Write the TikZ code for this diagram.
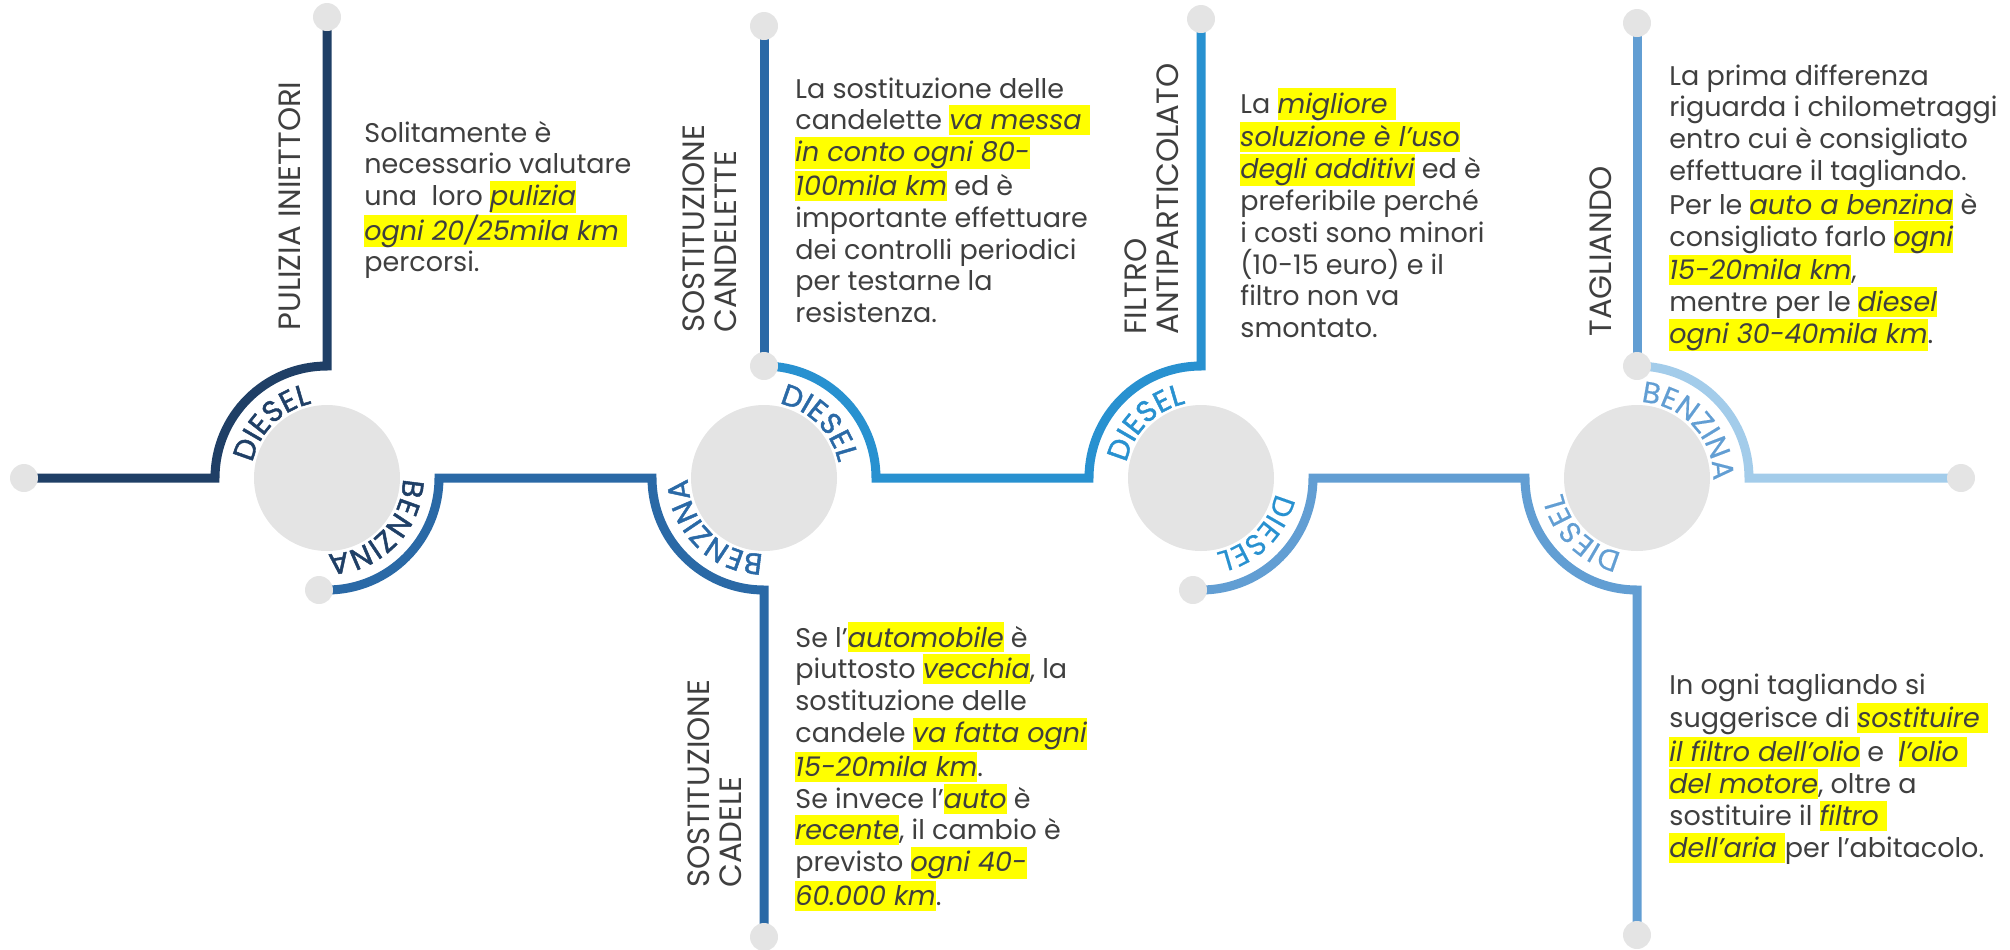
\documentclass[tikz,border=0pt]{standalone}
\usepackage{fontspec}
\setmainfont{Poppins}
\newfontfamily\arcfont{Poppins}[LetterSpace=4,FakeBold=1.6]
\newfontfamily\arcfontlight{Poppins}[LetterSpace=4,FakeBold=0.4]
\usetikzlibrary{calc,decorations.text}
\definecolor{navy}{HTML}{1F3F66}
\definecolor{blueA}{HTML}{2A69A6}
\definecolor{blueB}{HTML}{2891D0}
\definecolor{blueC}{HTML}{629ED3}
\definecolor{blueD}{HTML}{A3CCEA}
\definecolor{hubgray}{HTML}{E4E4E4}
\definecolor{txtgray}{HTML}{3F3F3F}
\definecolor{hlyellow}{HTML}{FFFF00}
\newcommand{\hlstrut}{\rule[-2.7pt]{0pt}{15pt}}
\newcommand{\hlbox}[1]{{\setlength{\fboxsep}{0pt}\colorbox{hlyellow}{\hlstrut\itshape #1}}}
\newcommand{\arclbl}{\arcfont\fontsize{14.8pt}{14.8pt}\selectfont}
\newcommand{\arclbllight}{\arcfontlight\fontsize{14.8pt}{14.8pt}\selectfont}

\begin{document}
\begin{tikzpicture}[x=0.5pt,y=0.5pt,
		seg/.style={line width=4.5pt},
		knob/.style={fill=hubgray},
		para/.style={anchor=north west,inner sep=0pt,align=left,text=txtgray,font=\fontsize{13.5pt}{15.9pt}\selectfont},
		ttl/.style={rotate=90,anchor=south west,inner sep=0pt,align=left,text=txtgray,font=\fontsize{15.4pt}{15.8pt}\selectfont}]
		\useasboundingbox (0,0) rectangle (2010,-949);
		
		\coordinate (h1) at (327,-478);
		\coordinate (h2) at (764,-478);
		\coordinate (h3) at (1201,-478);
		\coordinate (h4) at (1637,-478);
		\coordinate (dl) at (24,-478);
		\coordinate (d1t) at (327,-17);
		\coordinate (d1b) at (319,-590);
		\coordinate (d2t) at (764,-26);
		\coordinate (d2m) at (764,-366);
		\coordinate (d2b) at (764,-937);
		\coordinate (d3t) at (1201,-19);
		\coordinate (d3b) at (1193,-590);
		\coordinate (d4t) at (1637,-23);
		\coordinate (d4m) at (1637,-366);
		\coordinate (d4b) at (1637,-935);
		\coordinate (dr) at (1961,-478);
		
		\draw[seg,navy] (dl) -- ($(h1)+(-112,0)$) arc[start angle=180,end angle=90,radius=112] -- (d1t);
		\draw[seg,blueA] ($(h1)+(0,-112)$) arc[start angle=-90,end angle=0,radius=112] -- ($(h2)+(-112,0)$) arc[start angle=180,end angle=270,radius=112] -- (d2b);
		\draw[seg,blueA] (d2m) -- (d2t);
		\draw[seg,blueB] (d2m) arc[start angle=90,end angle=0,radius=112] -- ($(h3)+(-112,0)$) arc[start angle=180,end angle=90,radius=112] -- (d3t);
		\draw[seg,blueC] ($(h3)+(0,-112)$) arc[start angle=-90,end angle=0,radius=112] -- ($(h4)+(-112,0)$) arc[start angle=180,end angle=270,radius=112] -- (d4b);
		\draw[seg,blueC] (d4m) -- (d4t);
		\draw[seg,blueD] (d4m) arc[start angle=90,end angle=0,radius=112] -- (dr);
		
		\fill[knob] (h1) circle[radius=73];
		\fill[knob] (h2) circle[radius=73];
		\fill[knob] (h3) circle[radius=73];
		\fill[knob] (h4) circle[radius=73];
		\foreach \d in {dl,d1t,d1b,d2t,d2m,d2b,d3t,d3b,d4t,d4m,d4b,dr}
			\fill[knob] (\d) circle[radius=14];
		
		\path[decorate,decoration={text along path,text align=center,text={|\arclbl\color{navy}|DIESEL}}] ($(h1)+(180:76)$) arc[start angle=180,end angle=90,radius=76];
		\path[decorate,decoration={text along path,text align=center,text={|\arclbl\color{navy}|BENZINA}}] ($(h1)+(0:76)$) arc[start angle=0,end angle=-90,radius=76];
		\path[decorate,decoration={text along path,text align=center,text={|\arclbl\color{blueA}|DIESEL}}] ($(h2)+(90:76)$) arc[start angle=90,end angle=0,radius=76];
		\path[decorate,decoration={text along path,text align=center,text={|\arclbl\color{blueA}|BENZINA}}] ($(h2)+(270:76)$) arc[start angle=270,end angle=180,radius=76];
		\path[decorate,decoration={text along path,text align=center,text={|\arclbl\color{blueB}|DIESEL}}] ($(h3)+(180:76)$) arc[start angle=180,end angle=90,radius=76];
		\path[decorate,decoration={text along path,text align=center,text={|\arclbllight\color{blueB}|DIESEL}}] ($(h3)+(0:76)$) arc[start angle=0,end angle=-90,radius=76];
		\path[decorate,decoration={text along path,text align=center,text={|\arclbllight\color{blueC}|DIESEL}}] ($(h4)+(270:76)$) arc[start angle=270,end angle=180,radius=76];
		\path[decorate,decoration={text along path,text align=center,text={|\arclbllight\color{blueC}|BENZINA}}] ($(h4)+(85:76)$) arc[start angle=85,end angle=0,radius=76];
		
		\node[ttl] (t1) at (301,-331) {PULIZIA INIETTORI};
		\node[ttl] (t2) at (737,-333) {SOSTITUZIONE\\CANDELETTE};
		\node[ttl] (t3) at (1179,-335) {FILTRO\\ANTIPARTICOLATO};
		\node[ttl] (t4) at (1612,-337) {TAGLIANDO};
		\node[ttl] (t5) at (742,-888) {SOSTITUZIONE\\CADELE};
		
		\node[para] (p1) at (364,-117) {\hlstrut Solitamente è\\
			necessario valutare\\
			una~ loro \hlbox{pulizia}\\
			\hlbox{ogni 20/25mila km\ }\\
			percorsi.};
		\node[para] (p2) at (795,-73) {\hlstrut La sostituzione delle\\
			candelette \hlbox{va messa\ }\\
			\hlbox{in conto ogni 80-}\\
			\hlbox{100mila km} ed è\\
			importante effettuare\\
			dei controlli periodici\\
			per testarne la\\
			resistenza.};
		\node[para] (p3) at (1240,-88) {\hlstrut La \hlbox{migliore\ }\\
			\hlbox{soluzione è l’uso}\\
			\hlbox{degli additivi} ed è\\
			preferibile perché\\
			i costi sono minori\\
			(10-15 euro) e il\\
			filtro non va\\
			smontato.};
		\node[para] (p4) at (1669,-60) {\hlstrut La prima differenza\\
			riguarda i chilometraggi\\
			entro cui è consigliato\\
			effettuare il tagliando.\\
			Per le \hlbox{auto a benzina} è\\
			consigliato farlo \hlbox{ogni}\\
			\hlbox{15-20mila km},\\
			mentre per le \hlbox{diesel}\\
			\hlbox{ogni 30-40mila km}.};
		\node[para] (p5) at (795,-622) {\hlstrut Se l’\hlbox{automobile} è\\
			piuttosto \hlbox{vecchia}, la\\
			sostituzione delle\\
			candele \hlbox{va fatta ogni}\\
			\hlbox{15-20mila km}.\\
			Se invece l’\hlbox{auto} è\\
			\hlbox{recente}, il cambio è\\
			previsto \hlbox{ogni 40-}\\
			\hlbox{60.000 km}.};
		\node[para] (p6) at (1669,-669) {\hlstrut In ogni tagliando si\\
			suggerisce di \hlbox{sostituire\ }\\
			\hlbox{il filtro dell’olio} e~ \hlbox{l’olio\ }\\
			\hlbox{del motore}, oltre a\\
			sostituire il \hlbox{filtro\ }\\
			\hlbox{dell’aria\ }per l’abitacolo.};
	\end{tikzpicture}
\end{document}
